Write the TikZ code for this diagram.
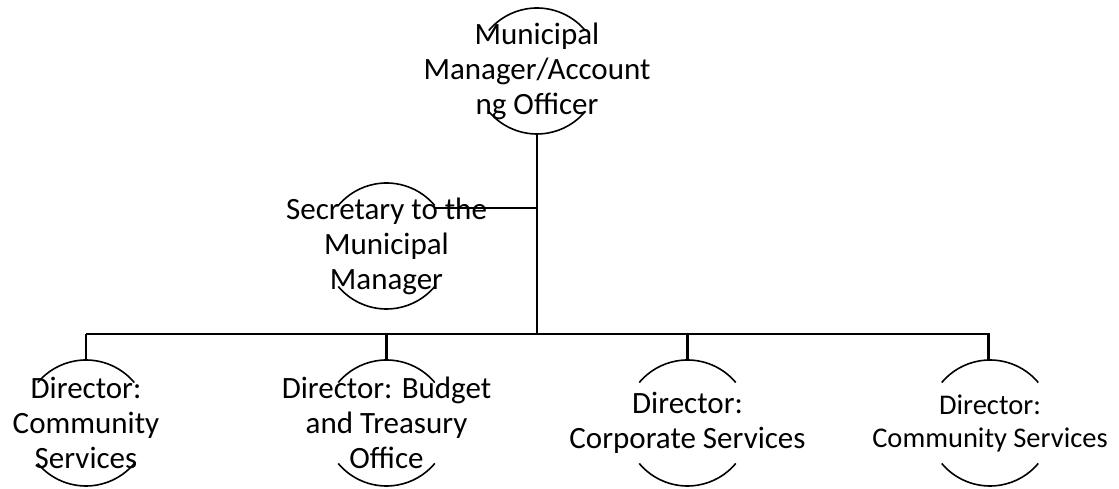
\documentclass[tikz,border=0pt]{standalone}
\usepackage{fontspec}
\setmainfont{Carlito}
\tikzset{
  unit/.style={align=center,inner sep=0pt,font=\fontsize{31}{35}\selectfont},
  link/.style={line width=2.6pt},
  rim/.style={line width=1.6pt}
}
\begin{document}
\begin{tikzpicture}[x=1pt,y=1pt]
      \pgfmathsetmacro{\r}{63}
      \useasboundingbox (0,0) rectangle (1119,489);

      \node[unit] (mm) at (537,418) {Municipal\\Manager/Account\\ng Officer};
      \node[unit] (sec) at (386.5,243) {Secretary to the\\Municipal\\Manager};
      \node[unit] (d1) at (86,66) {Director:\\Community\\Services};
      \node[unit] (d2) at (386.5,66) {Director: Budget\\and Treasury\\Office};
      \node[unit] (d3) at (687.5,66) {Director:\\Corporate Services};
      \node[unit,font=\fontsize{28.5}{33}\selectfont] (d4) at (990,66) {Director:\\Community Services};

      \coordinate (bar) at (0,155);
      \coordinate (secR) at ([shift={(47pt,38pt)}]sec.center);

      \foreach \n in {mm,sec,d1,d2,d3,d4}{
        \draw[rim] ([shift={(40:\r pt)}]\n.center) arc[start angle=40,end angle=140,radius=\r pt];
        \draw[rim] ([shift={(220:\r pt)}]\n.center) arc[start angle=220,end angle=320,radius=\r pt];
      }

      \draw[link] ([yshift=-\r pt]mm.center) -- (mm.center |- bar);
      \draw[link] (secR) -- (secR -| mm.center);
      \draw[link] (d1.center |- bar) -- (d4.center |- bar);
      \foreach \n in {d1,d2,d3}
        \draw[link] (\n.center |- bar) -- ([yshift=\r pt]\n.center);
      \draw[link] ([xshift=-1.5pt]d4.center |- bar) -- ([xshift=-1.5pt,yshift=\r pt]d4.center);
    \end{tikzpicture}
\end{document}
